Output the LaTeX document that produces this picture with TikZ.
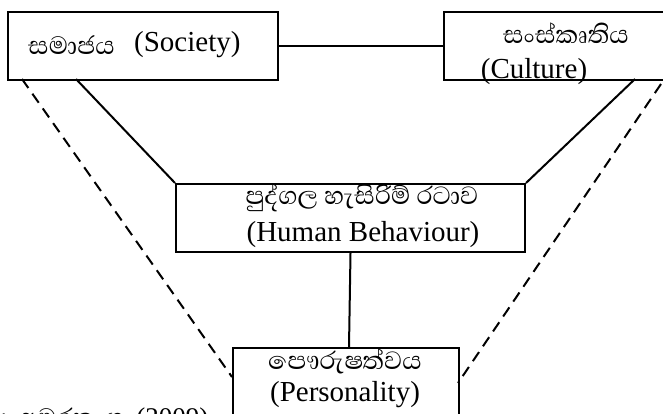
\documentclass[tikz,border=0pt]{standalone}
\usepackage{fontspec}
\setmainfont{Liberation Serif}
\newfontfamily\sinfont[Script=Sinhala]{Abhaya Libre}
\begin{document}
\begin{tikzpicture}[x=1pt,y=-1pt,
  box/.style={draw,line width=2pt,inner sep=0pt,anchor=north west},
  conn/.style={line width=2pt},
  dconn/.style={line width=2pt,dash pattern=on 11pt off 7pt},
  en/.style={font=\fontsize{29}{31}\selectfont,inner sep=0pt},
  si/.style={font=\sinfont\fontsize{32}{36}\selectfont,inner sep=0pt}]
\useasboundingbox (0,0) rectangle (663,413);
% boxes
\node[box,minimum width=270pt,minimum height=68pt] (soc) at (7,11) {};
\node[box,minimum width=240pt,minimum height=68pt] (cul) at (443,11) {};
\node[box,minimum width=349pt,minimum height=68pt] (hb) at (175,183) {};
\node[box,minimum width=226pt,minimum height=80pt] (per) at (232,347) {};
% texts
\node[si,anchor=west] (socsi) at (28,45) {සමාජය};
\node[en,anchor=west] (socen) at (134,45) {(Society)};
\node[si] (culsi) at (566,33) {සංස්කෘතිය};
\node[en] (culen) at (534,72) {(Culture)};
\node[si] (hbsi) at (362,198) {පුද්ගල හැසිරිම් රටාව};
\node[en] (hben) at (363,235) {(Human Behaviour)};
\node[si] (persi) at (345,361) {පෞරුෂත්වය};
\node[en] (peren) at (345,395) {(Personality)};
\node[anchor=base west,inner sep=0pt,font=\fontsize{27}{29}\selectfont] (src) at (0,426) {:\hspace{12pt}{\sinfont\fontsize{32}{34}\selectfont අමරතුංග}\hspace{12pt}(2009)};
% connector end points
\coordinate (s1) at (76,79);
\coordinate (s2) at (22,79);
\coordinate (c1) at (635,79);
\coordinate (c2) at (661,84);
\coordinate (p1) at (232,377);
\coordinate (p2) at (458,383);
\coordinate (p3) at (349,347);
% connectors
\draw[conn] (soc.east) -- (cul.west);
\draw[conn] (s1) -- (hb.north west);
\draw[conn] (c1) -- (hb.north east);
\draw[conn] (hb.south) -- (p3);
\draw[dconn] (s2) -- (p1);
\draw[dconn] (c2) -- (p2);
\end{tikzpicture}
\end{document}
